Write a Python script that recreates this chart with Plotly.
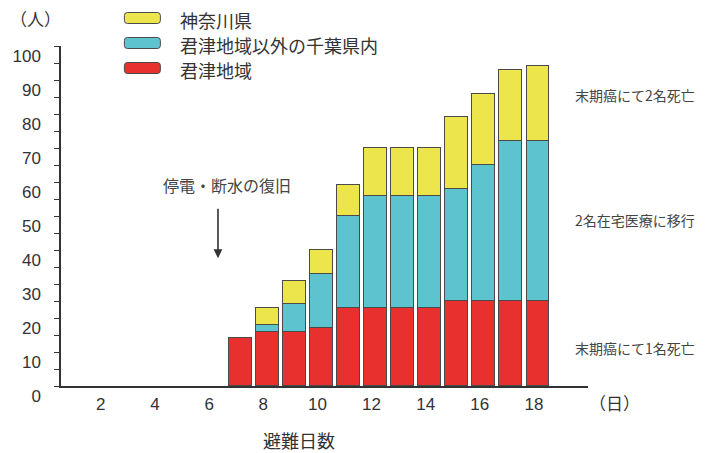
import plotly.graph_objects as go

# Evacuation day (x) and number of people per region (stacked)
days = [7, 8, 9, 10, 11, 12, 13, 14, 15, 16, 17, 18]
kimitsu = [14, 16, 16, 17, 23, 23, 23, 23, 25, 25, 25, 25]
chiba_other = [None, 2, 8, 16, 27, 33, 33, 33, 33, 40, 47, 47]
kanagawa = [None, 5, 7, 7, 9, 14, 14, 14, 21, 21, 21, 22]

series_names = ["神奈川県", "君津地域以外の千葉県内", "君津地域"]
series_colors = ["#ECE64C", "#5DC4CF", "#E8302F"]

y_ticks = [0, 10, 20, 30, 40, 50, 60, 70, 80, 90, 100]
x_ticks = [2, 4, 6, 8, 10, 12, 14, 16, 18]

notes_right = [
    (85.6, "末期癌にて2名死亡"),
    (48.8, "2名在宅医療に移行"),
    (11.2, "末期癌にて1名死亡"),
]

W, H = 717, 453
ML, MR, MT, MB = 57, 129, 46, 67
PW, PH = W - ML - MR, H - MT - MB

JP = "Noto Sans CJK JP"
NUM = "Liberation Sans"
INK = "#333333"
EDGE = "#4a4a4a"


def px(x):
    return (x - ML) / PW


def py(y):
    return (H - MB - y) / PH


fig = go.Figure()
stack = [(kimitsu, 2), (chiba_other, 1), (kanagawa, 0)]
for values, i in stack:
    fig.add_trace(go.Bar(
        x=days, y=values, name=series_names[i],
        marker=dict(color=series_colors[i], line=dict(color=EDGE, width=1.2)),
        width=0.84, showlegend=False,
    ))

shapes = []
annotations = []

# Legend: rounded swatches plus labels
swatch = ("M -15,-5.5 H 15 Q 18,-5.5 18,-2.5 V 2.5 Q 18,5.5 15,5.5 "
          "H -15 Q -18,5.5 -18,2.5 V -2.5 Q -18,-5.5 -15,-5.5 Z")
for k, (name, color) in enumerate(zip(series_names, series_colors)):
    cy = 18 + 25 * k
    shapes.append(dict(
        type="path", xref="paper", yref="paper",
        xsizemode="pixel", ysizemode="pixel",
        xanchor=px(139), yanchor=py(cy), path=swatch,
        fillcolor=color, line=dict(color=EDGE, width=1),
    ))
    annotations.append(dict(
        xref="paper", yref="paper", x=px(175), y=py(cy + 2),
        xanchor="left", yanchor="middle", text=name, showarrow=False,
        font=dict(family=JP, size=18, color=INK),
    ))

# Unit labels
annotations.append(dict(
    xref="paper", yref="paper", x=px(31), y=py(18), text="（人）",
    showarrow=False, xanchor="center", yanchor="middle",
    font=dict(family=JP, size=17, color=INK),
))
annotations.append(dict(
    xref="paper", yref="paper", x=px(615), y=py(402), text="（日）",
    showarrow=False, xanchor="center", yanchor="middle",
    font=dict(family=JP, size=17, color=INK),
))
# Axis title
annotations.append(dict(
    xref="paper", yref="paper", x=px(297), y=py(440), text="避難日数",
    showarrow=False, xanchor="center", yanchor="middle",
    font=dict(family=JP, size=18, color=INK),
))

# Power / water restoration marker
annotations.append(dict(
    xref="paper", yref="paper", x=px(224), y=py(185), text="停電・断水の復旧",
    showarrow=False, xanchor="center", yanchor="middle",
    font=dict(family=JP, size=16, color="#444444"),
))
annotations.append(dict(
    x=6.18, y=37.6, xref="x", yref="y", ax=0, ay=-51, text="",
    showarrow=True, arrowhead=2, arrowsize=1.1, arrowwidth=1.6,
    arrowcolor=INK,
))

# Notes on the right
for yv, txt in notes_right:
    annotations.append(dict(
        x=19.3, y=yv, xref="x", yref="y", text=txt, showarrow=False,
        xanchor="left", yanchor="middle",
        font=dict(family=JP, size=14, color="#444444"),
    ))

fig.update_layout(
    width=W, height=H,
    margin=dict(l=ML, r=MR, t=MT, b=MB, pad=0),
    barmode="stack", bargap=0,
    paper_bgcolor="white", plot_bgcolor="white",
    shapes=shapes, annotations=annotations,
    showlegend=False,
)
fig.update_xaxes(
    range=[0.38, 19.85], tickvals=x_ticks, ticktext=[str(v) for v in x_ticks],
    showgrid=False, zeroline=False, showline=True, linecolor=INK, linewidth=1.5,
    ticks="", tickfont=dict(family=NUM, size=17, color=INK),
    ticklabelstandoff=2, ticklabelshift=-4,
)
fig.update_yaxes(
    range=[0, 100], tickvals=y_ticks, ticktext=[str(v) for v in y_ticks],
    showgrid=False, zeroline=False, showline=True, linecolor=INK, linewidth=1.5,
    ticks="outside", ticklen=5, tickwidth=1.2, tickcolor=INK,
    minor=dict(dtick=5, ticks="outside", ticklen=5, tickwidth=1.2, tickcolor=INK),
    tickfont=dict(family=NUM, size=17, color=INK),
    ticklabelshift=10, ticklabelstandoff=10,
)

fig.write_html("out.html")
